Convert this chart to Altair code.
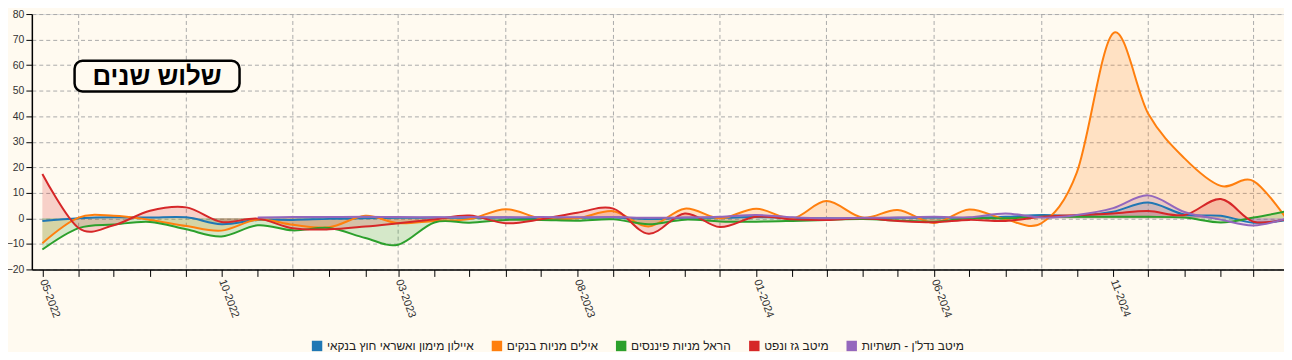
import altair as alt
import pandas as pd

months = [d.strftime("%Y-%m-%d") for d in pd.date_range("2022-05-01", "2025-04-01", freq="MS")]

series_names = [
    "איילון מימון ואשראי חוץ בנקאי",
    "אילים מניות בנקים",
    "הראל מניות פיננסים",
    "מיטב גז ונפט",
    "מיטב נדל'ן - תשתיות",
]
series_colors = ["#1f77b4", "#ff7f0e", "#2ca02c", "#d62728", "#9467bd"]

blue = [-1.0, 0.0, 0.4, 0.3, 0.4, -2.3, -0.6, -0.6, -0.2, 0.0, 0.2, 0.3,
        0.2, 0.3, 0.0, 0.2, 0.3, -0.3, 0.2, 0.2, 0.5, 0.2, 0.0, 0.0,
        0.2, 0.3, 0.2, 0.6, 1.3, 1.0, 2.6, 6.2, 1.5, 1.0, -1.7, -0.5]
orange = [-9.7, 0.3, 1.0, -0.6, -3.0, -4.8, -0.5, -2.5, -3.5, 1.0, -1.9, -1.0,
          -0.3, 3.6, 0.0, 0.0, 2.8, -3.2, 3.8, 0.0, 3.8, 0.0, 6.8, 0.3,
          3.3, -1.8, 3.5, -0.4, -1.8, 18.0, 72.5, 41.0, 23.5, 12.7, 14.6, -2.0]
green = [-12.2, -3.8, -2.4, -1.4, -4.3, -7.1, -2.7, -4.7, -3.8, -7.7, -10.3, -1.6,
         -1.7, -0.6, -0.6, -0.9, -0.4, -2.3, -0.5, -1.2, -1.3, -1.0, -0.6, -0.3,
         -0.8, -1.3, 0.0, 0.0, 0.6, 0.6, 0.6, 0.6, 0.3, -1.6, 0.3, 3.0]
red = [17.4, -3.8, -2.7, 3.0, 4.3, -1.4, -0.1, -3.9, -4.3, -3.2, -1.9, -0.4,
       1.1, -1.9, -0.4, 2.2, 3.8, -6.0, 1.9, -3.4, 0.6, -0.4, -0.6, 0.0,
       -1.0, -1.5, -0.6, -1.0, 0.6, 1.3, 1.9, 2.9, 1.3, 7.6, -1.3, 0.0]
purple = [None, None, None, None, None, None, 0.3, 0.5, 0.5, 0.6, 0.5, 0.4,
          0.5, 0.4, 0.5, 0.4, 0.5, 0.2, 0.3, 0.6, 1.3, 0.4, 0.0, 0.2,
          0.3, 0.6, 0.4, 1.9, 0.3, 1.3, 4.0, 9.0, 2.5, -0.5, -2.8, 0.3]

y_ticks = [-20, -10, 0, 10, 20, 30, 40, 50, 60, 70, 80]
title_text = "שלוש שנים"

rows = []
for name, vals in zip(series_names, [blue, orange, green, red, purple]):
    for d, v in zip(months, vals):
        if v is not None:
            rows.append({"date": d, "series": name, "value": v})
df = pd.DataFrame(rows)

grid_df = pd.DataFrame({"date": months[1::3]})

W, H = 1260, 257

x_scale = alt.Scale(
    type="utc",
    domain=[alt.DateTime(year=2022, month=4, date=22, utc=True),
            alt.DateTime(year=2025, month=3, date=27, utc=True)],
)
y_scale = alt.Scale(domain=[-20, 80], nice=False)
color_scale = alt.Scale(domain=series_names, range=series_colors)

tick_values = [alt.DateTime(year=int(m[:4]), month=int(m[5:7]), date=1, utc=True) for m in months]

x_axis = alt.Axis(
    values=tick_values,
    labelExpr="(utcyear(datum.value)*12 + utcmonth(datum.value) - 24268) % 5 == 0 ? utcFormat(datum.value, '%m-%Y') : ''",
    labelAngle=70, labelAlign="left", labelBaseline="middle",
    grid=False, tickSize=7, tickColor="black", domainColor="black", domainWidth=1.5,
    labelFontSize=11, labelColor="#333", title=None, labelPadding=3,
    labelOverlap=False, labelFlush=False, labelBound=False,
)
y_axis = alt.Axis(
    values=y_ticks, grid=True, gridDash=[4, 3], gridColor="#aaaaaa",
    tickSize=6, tickColor="black", domainColor="black", domainWidth=1.5,
    labelFontSize=10.5, labelColor="#333", title=None, labelPadding=2,
    labelOverlap=False,
)

X = alt.X("date:T", scale=x_scale, axis=x_axis)

vgrid = alt.Chart(grid_df).mark_rule(strokeDash=[4, 3], color="#aaaaaa", strokeWidth=1).encode(
    x=X, y=alt.value(0), y2=alt.value(H),
)

areas = alt.Chart(df).mark_area(interpolate="cardinal", fillOpacity=0.2, clip=True).encode(
    x=X,
    y=alt.Y("value:Q", scale=y_scale, axis=y_axis, stack=None),
    y2=alt.datum(0),
    color=alt.Color("series:N", scale=color_scale, legend=alt.Legend(
        orient="none", legendX=281, legendY=328, direction="horizontal",
        symbolType="square", symbolSize=110, symbolOpacity=1, symbolStrokeWidth=0,
        labelFontSize=12, labelColor="#222", columnPadding=17, title=None,
        labelFont="Liberation Sans",
    )),
)

lines = alt.Chart(df).mark_line(interpolate="cardinal", strokeWidth=2, clip=True).encode(
    x=X,
    y=alt.Y("value:Q", scale=y_scale, axis=y_axis),
    color=alt.Color("series:N", scale=color_scale, legend=None),
)

box_df = pd.DataFrame({"t": [title_text]})
box = alt.Chart(box_df).mark_rect(
    cornerRadius=8, fill="#fffaf0", stroke="black", strokeWidth=2.5
).encode(x=alt.value(43), x2=alt.value(209), y=alt.value(47), y2=alt.value(78))
box_text = alt.Chart(box_df).mark_text(
    font="Liberation Sans", fontSize=26, fontWeight="bold", color="black",
    align="center", baseline="middle", dy=1
).encode(x=alt.value(126), y=alt.value(62), text="t:N")

chart = alt.layer(vgrid, areas, lines, box, box_text).properties(
    width=W, height=H,
    autosize=alt.AutoSizeParams(type="none"),
    padding={"left": 24, "top": 5, "right": 0, "bottom": 82},
    background="#fffaf0",
).configure_view(stroke=None).configure(font="Liberation Sans").configure_axis(labelOverlap=False)

chart.save("out.html", embed_options={"renderer": "svg", "actions": False})
